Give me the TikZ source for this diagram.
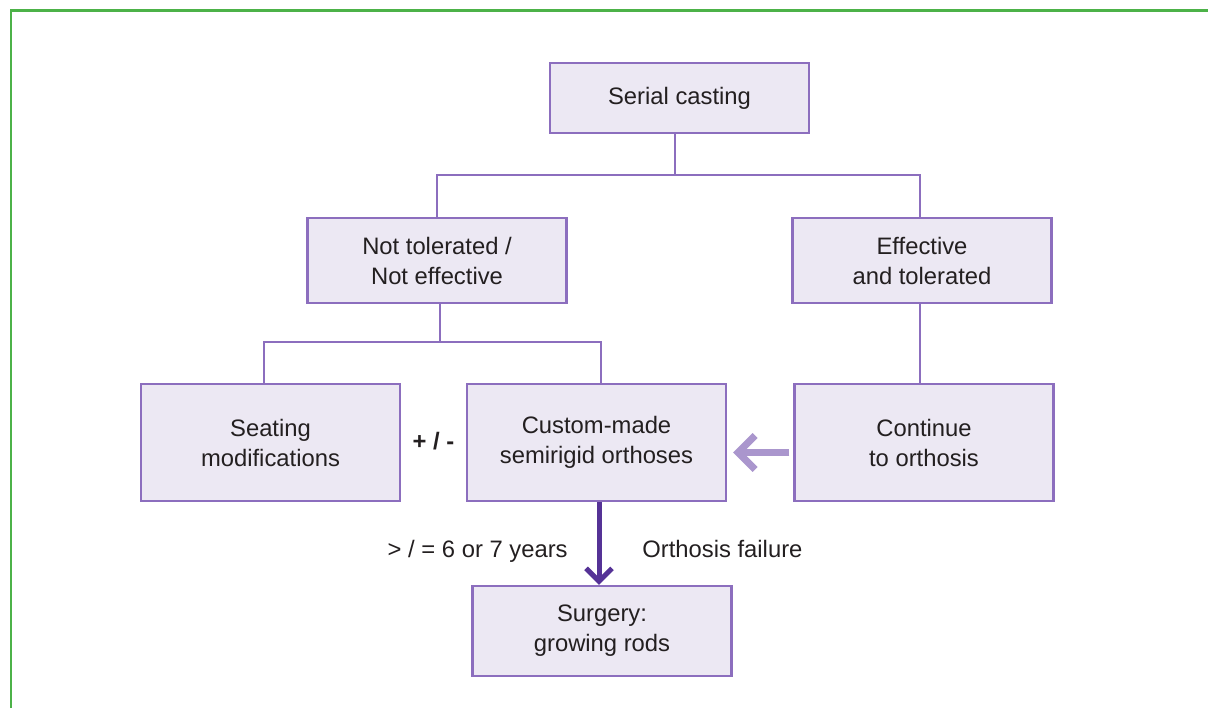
\documentclass[tikz,border=0pt]{standalone}
\usepackage{fontspec}
\setmainfont{Liberation Sans}
\usepackage{xcolor}
\usetikzlibrary{arrows.meta}

\definecolor{boxfill}{RGB}{236,232,243}
\definecolor{boxline}{RGB}{140,110,190}
\definecolor{darkarrow}{RGB}{85,50,150}
\definecolor{lightarrow}{RGB}{170,150,205}
\definecolor{framegreen}{RGB}{76,178,72}
\definecolor{inkgray}{RGB}{35,31,32}

\begin{document}
\begin{tikzpicture}[x=0.5pt, y=-0.5pt,
        font=\fontsize{11.9}{15}\selectfont, text=inkgray,
        box/.style={draw=boxline, fill=boxfill, line width=1.2pt, minimum width=129.5pt, align=center, inner sep=0pt},
        link/.style={draw=boxline, line width=1pt}]
        \useasboundingbox (0,0) rectangle (1208,708);
        \draw[framegreen, line width=1.2pt] (11,708) -- (11,10.5) -- (1208,10.5);

        \node[box, minimum height=35pt] (serial) at (679.5,98) {Serial casting};
        \node[box, minimum height=42.5pt] (nottol) at (437,260.5) {Not tolerated /\\Not effective};
        \node[box, minimum height=42.5pt] (effect) at (922,260.5) {Effective\\and tolerated};
        \node[box, minimum height=58.5pt] (seat) at (270.5,442.5) {Seating\\modifications};
        \node[box, minimum height=58.5pt] (custom) at (596.5,442.5) {Custom-made\\semirigid orthoses};
        \node[box, minimum height=58.5pt] (cont) at (924,442.5) {Continue\\to orthosis};
        \node[box, minimum height=45pt] (surgery) at (602,631) {Surgery:\\growing rods};

        \node[font={\fontsize{11.9}{15}\selectfont\bfseries}] (plusminus) at (433.5,441) {+ / -};
        \node[anchor=base east, inner sep=0pt] (agelbl) at (568,557) {> / = 6 or 7 years};
        \node[anchor=base west, inner sep=0pt] (faillbl) at (642,557) {Orthosis failure};

        \coordinate (fork1) at (675,175);
        \coordinate (fork2) at (440,342);

        \draw[link] (serial.south -| fork1) -- (fork1);
        \draw[link] (nottol.north) |- (fork1) -| ([xshift=-1pt]effect.north);
        \draw[link] (nottol.south -| fork2) -- (fork2);
        \draw[link] ([xshift=-3.25pt]seat.north) |- (fork2) -| ([xshift=2.25pt]custom.north);
        \draw[link] ([xshift=-1pt]effect.south) -- ([xshift=-1pt]effect.south |- cont.north);

        \draw[lightarrow, line width=3.5pt, -{Straight Barb[length=8.5pt, width=17pt]}]
            ([xshift=-2pt, yshift=-5pt]cont.west) -- ([xshift=3pt, yshift=-5pt]custom.east);
        \draw[darkarrow, line width=2.5pt, -{Straight Barb[length=6.5pt, width=13pt]}]
            ([xshift=1.25pt]custom.south) -- ([xshift=1.25pt]custom.south |- surgery.north);
    \end{tikzpicture}
\end{document}
